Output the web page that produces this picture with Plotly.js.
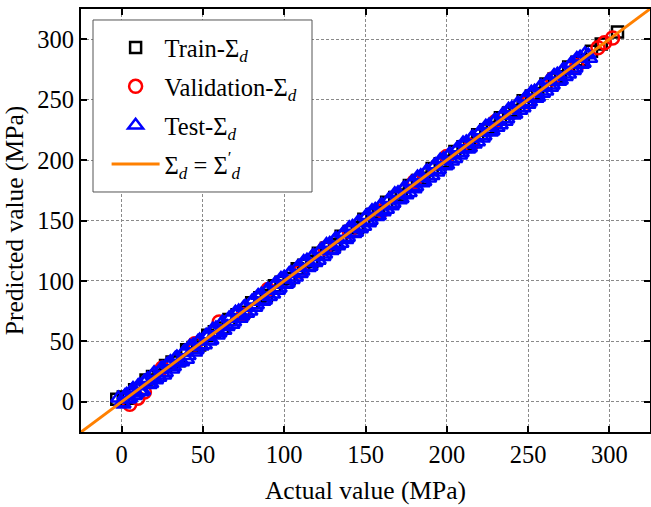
<!DOCTYPE html>
<html>
<head>
<meta charset="utf-8">
<script src="https://cdn.plot.ly/plotly-3.0.1.min.js"></script>
<style>
  html, body { margin: 0; padding: 0; background: #fff; }
  #chart { width: 651px; height: 507px; }
</style>
</head>
<body>
<div id="chart"></div>
<script>
// Training set: actual vs predicted stress (MPa)
const trainActual = [-3,1,4,8,12,15,19,23,27,31,35,40,44,48,53,57,62,66,71,75,80,85,89,94,98,103,108,112,117,121,126,131,135,140,145,149,154,158,163,168,172,177,182,186,191,196,200,205,210,214,219,224,228,233,238,242,247,252,256,261,266,270,275,280,284,289,295,305];
const trainPred   = [2,4,3,10,11,18,21,22,30,33,34,43,45,47,55,58,61,68,72,74,82,86,88,96,99,102,110,113,116,123,127,130,137,141,144,151,155,157,165,169,171,179,183,185,193,197,199,207,211,213,221,225,227,235,239,241,249,253,255,263,267,269,277,281,283,290,296,306];

// Validation set
const valActual = [5,10,14,25,45,60,75,90,110,125,140,160,180,200,215,230,250,265,280,293,297,302];
const valPred   = [-2,3,8,28,48,66,72,93,108,127,141,158,182,203,212,232,248,267,278,293,297,301];

// Test set
const testActual = [-2,0,2,4,6,8,10,12,14,17,19,21,24,26,28,31,33,35,38,40,42,45,47,49,52,54,56,59,61,63,66,68,70,73,75,77,80,82,84,87,89,91,94,96,98,101,103,105,108,110,112,115,117,119,122,124,126,129,131,133,136,138,140,143,145,147,150,152,154,157,159,161,164,166,168,171,173,175,178,180,182,185,187,189,192,194,196,199,201,203,206,208,210,213,215,217,220,222,224,227,229,231,234,236,238,241,243,245,248,250,252,255,257,259,262,264,266,269,271,273,276,278,280,283,285,288,
  1,3,5,7,9,11,13,16,18,20,23,25,27,30,32,34,37,39,41,44,46,48,51,53,55,58,60,62,65,67,69,72,74,76,79,81,83,86,88,90,93,95,97,100,102,104,107,109,111,114,116,118,121,123,125,128,130,132,135,137,139,142,144,146,149,151,153,156,158,160,163,165,167,170,172,174,177,179,181,184,186,188,191,193,195,198,200,202,205,207,209,212,214,216,219,221,223,226,228,230,233,235,237,240,242,244,247,249,251,254,256,258,261,263,265,268,270,272,275,277,279,282,284,287];
const testPred   = [3,-1,5,2,9,5,13,8,17,14,22,18,27,22,31,27,36,32,41,35,46,41,50,46,55,50,60,55,64,59,69,64,74,69,78,73,83,78,88,83,92,87,97,92,102,97,106,101,111,106,116,111,120,115,125,120,130,125,134,129,139,134,144,139,148,143,153,148,158,153,162,157,167,162,172,167,176,171,181,176,186,181,190,185,195,190,200,195,204,199,209,204,214,209,218,213,223,218,228,223,232,227,237,232,242,237,246,241,251,246,256,251,260,255,265,260,270,265,274,269,279,274,284,279,288,284,
  -2,6,3,11,7,14,9,19,15,24,20,28,24,33,29,37,33,42,38,47,43,51,47,54,51,61,57,66,62,70,66,75,71,79,75,84,80,89,84,93,89,98,94,103,98,107,103,112,108,117,112,121,117,126,122,131,126,135,131,140,136,145,140,149,145,154,150,159,154,163,159,168,164,173,168,177,173,182,178,187,182,191,187,196,192,201,196,205,201,210,206,215,210,219,215,224,220,229,224,233,229,238,234,243,238,247,243,252,248,257,252,261,257,266,262,271,266,275,271,280,276,285,280,287];

// Reference 1:1 line
const idealX = [-25, 325];
const idealY = [-25, 325];

// Axis ticks
const tickValues = [0, 50, 100, 150, 200, 250, 300];

const serif = '"Liberation Serif", serif';
const markerLine = (color) => ({ color: color, width: 2.5 });

const traces = [
  {
    x: trainActual, y: trainPred, mode: 'markers', type: 'scatter', legendgroup: 'g1',
    name: 'Train-Σ<sub><i>d</i></sub>',
    marker: { symbol: 'square-open', size: 11, color: '#000000', line: markerLine('#000000') }
  },
  {
    x: valActual, y: valPred, mode: 'markers', type: 'scatter', legendgroup: 'g2',
    name: 'Validation-Σ<sub><i>d</i></sub>',
    marker: { symbol: 'circle-open', size: 13, color: '#ff0000', line: markerLine('#ff0000') }
  },
  {
    x: testActual, y: testPred, mode: 'markers', type: 'scatter', legendgroup: 'g3',
    name: 'Test-Σ<sub><i>d</i></sub>',
    marker: { symbol: 'triangle-up-open', size: 13, color: '#0000ff', line: markerLine('#0000ff') }
  },
  {
    x: idealX, y: idealY, mode: 'lines', type: 'scatter', legendgroup: 'g4',
    name: 'Σ<sub><i>d</i></sub> = Σ<sup>′</sup><sub><i>d</i></sub>',
    line: { color: '#ff8000', width: 3 }
  }
];

const axisCommon = {
  range: [-25, 325],
  tickvals: tickValues,
  ticks: 'inside',
  ticklen: 6,
  tickwidth: 2,
  tickcolor: '#000',
  showline: true,
  linecolor: '#000',
  linewidth: 2,
  mirror: 'ticks',
  showgrid: true,
  gridcolor: '#8a8a8a',
  gridwidth: 1,
  griddash: '3px,2px',
  zeroline: false,
  tickfont: { family: serif, size: 24.5, color: '#000' }
};

const layout = {
  width: 651,
  height: 507,
  margin: { l: 81, r: 1, t: 9, b: 75 },
  paper_bgcolor: '#ffffff',
  plot_bgcolor: '#ffffff',
  font: { family: serif, size: 24.5, color: '#000' },
  showlegend: true,
  xaxis: Object.assign({}, axisCommon, {
    title: { text: 'Actual value (MPa)', font: { family: serif, size: 25.5, color: '#000' }, standoff: 14 }
  }),
  yaxis: Object.assign({}, axisCommon, {
    title: { text: 'Predicted value (MPa)', font: { family: serif, size: 25.5, color: '#000' }, standoff: 6 }
  }),
  // white framed box behind the legend entries
  shapes: [{
    type: 'rect', xref: 'paper', yref: 'paper', layer: 'above',
    x0: 0.0211, x1: 0.406, y0: 0.5674, y1: 0.974,
    line: { color: '#555555', width: 1 }, fillcolor: '#ffffff'
  }],
  legend: {
    x: 0.045, y: 0.962, xanchor: 'left', yanchor: 'top',
    bgcolor: 'rgba(0,0,0,0)',
    borderwidth: 0,
    font: { family: serif, size: 24.5, color: '#000' },
    itemwidth: 48,
    traceorder: 'grouped',
    tracegroupgap: 4
  }
};

Plotly.newPlot('chart', traces, layout, { displayModeBar: false, staticPlot: true });
</script>
</body>
</html>
